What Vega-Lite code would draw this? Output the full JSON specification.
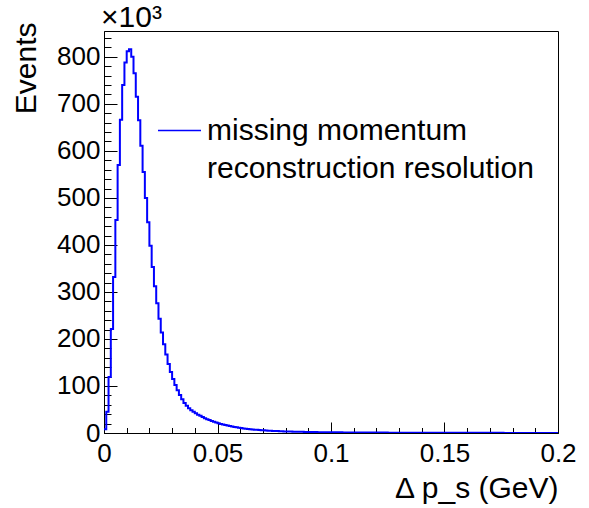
{
  "$schema": "https://vega.github.io/schema/vega-lite/v6.json",
  "width": 454,
  "height": 402,
  "autosize": {"type": "none"},
  "padding": {"left": 104, "top": 31, "right": 31, "bottom": 75},
  "background": "white",
  "title": {"text": "×10³", "anchor": "start", "frame": "group", "orient": "top", "offset": 4, "baseline": "alphabetic", "fontSize": 30, "fontWeight": "normal", "font": "Liberation Sans", "color": "black", "dx": -3, "dy": 39},
  "data": {"values": [
    {"x":0,"v":8},{"x":0.001,"v":45},{"x":0.002,"v":119},{"x":0.003,"v":221},{"x":0.004,"v":332},
    {"x":0.005,"v":453},{"x":0.006,"v":570},{"x":0.007,"v":666},{"x":0.008,"v":740},{"x":0.009,"v":788},
    {"x":0.01,"v":812},{"x":0.011,"v":816},{"x":0.012,"v":800},{"x":0.013,"v":765},{"x":0.014,"v":715},
    {"x":0.015,"v":665},{"x":0.016,"v":611},{"x":0.017,"v":555},{"x":0.018,"v":500},{"x":0.019,"v":448},
    {"x":0.02,"v":398},{"x":0.021,"v":353},{"x":0.022,"v":312},{"x":0.023,"v":276},{"x":0.024,"v":243},
    {"x":0.025,"v":214},{"x":0.026,"v":189},{"x":0.027,"v":167},{"x":0.028,"v":147},{"x":0.029,"v":130},
    {"x":0.03,"v":115},{"x":0.031,"v":102},{"x":0.032,"v":91},{"x":0.033,"v":81},{"x":0.034,"v":72},
    {"x":0.035,"v":64},{"x":0.036,"v":58},{"x":0.037,"v":52.5},{"x":0.038,"v":48.5},{"x":0.039,"v":45},
    {"x":0.04,"v":42},{"x":0.041,"v":39},{"x":0.042,"v":36.5},{"x":0.043,"v":34},{"x":0.044,"v":31.5},
    {"x":0.045,"v":29.5},{"x":0.046,"v":27.5},{"x":0.047,"v":25.5},{"x":0.048,"v":23.8},{"x":0.049,"v":22.2},
    {"x":0.05,"v":20.7},{"x":0.051,"v":19.3},{"x":0.052,"v":18},{"x":0.053,"v":16.8},{"x":0.054,"v":15.7},
    {"x":0.055,"v":14.7},{"x":0.056,"v":13.7},{"x":0.057,"v":12.8},{"x":0.058,"v":12},{"x":0.059,"v":11.2},
    {"x":0.06,"v":10.5},{"x":0.061,"v":9.8},{"x":0.062,"v":9.2},{"x":0.063,"v":8.6},{"x":0.064,"v":8.1},
    {"x":0.065,"v":7.6},{"x":0.066,"v":7.1},{"x":0.067,"v":6.7},{"x":0.068,"v":6.3},{"x":0.069,"v":5.9},
    {"x":0.07,"v":5.6},{"x":0.071,"v":5.3},{"x":0.072,"v":5},{"x":0.073,"v":4.7},{"x":0.074,"v":4.45},
    {"x":0.075,"v":4.2},{"x":0.076,"v":4},{"x":0.077,"v":3.8},{"x":0.078,"v":3.6},{"x":0.079,"v":3.4},
    {"x":0.08,"v":3.25},{"x":0.081,"v":3.1},{"x":0.082,"v":2.95},{"x":0.083,"v":2.8},{"x":0.084,"v":2.7},
    {"x":0.085,"v":2.6},{"x":0.086,"v":2.5},{"x":0.087,"v":2.4},{"x":0.088,"v":2.3},{"x":0.089,"v":2.2},
    {"x":0.09,"v":2.12},{"x":0.091,"v":2.04},{"x":0.092,"v":1.96},{"x":0.093,"v":1.9},{"x":0.094,"v":1.83},
    {"x":0.095,"v":1.77},{"x":0.096,"v":1.71},{"x":0.097,"v":1.65},{"x":0.098,"v":1.6},{"x":0.099,"v":1.55},
    {"x":0.1,"v":1.5},{"x":0.101,"v":1.46},{"x":0.102,"v":1.42},{"x":0.103,"v":1.38},{"x":0.104,"v":1.34},
    {"x":0.105,"v":1.3},{"x":0.106,"v":1.27},{"x":0.107,"v":1.24},{"x":0.108,"v":1.2},{"x":0.109,"v":1.17},
    {"x":0.11,"v":1.14},{"x":0.111,"v":1.11},{"x":0.112,"v":1.08},{"x":0.113,"v":1.05},{"x":0.114,"v":1.02},
    {"x":0.115,"v":1},{"x":0.116,"v":0.97},{"x":0.117,"v":0.95},{"x":0.118,"v":0.93},{"x":0.119,"v":0.9},
    {"x":0.12,"v":0.88},{"x":0.121,"v":0.86},{"x":0.122,"v":0.84},{"x":0.123,"v":0.82},{"x":0.124,"v":0.8},
    {"x":0.125,"v":0.78},{"x":0.126,"v":0.76},{"x":0.127,"v":0.75},{"x":0.128,"v":0.73},{"x":0.129,"v":0.71},
    {"x":0.13,"v":0.7},{"x":0.131,"v":0.68},{"x":0.132,"v":0.67},{"x":0.133,"v":0.65},{"x":0.134,"v":0.64},
    {"x":0.135,"v":0.62},{"x":0.136,"v":0.61},{"x":0.137,"v":0.6},{"x":0.138,"v":0.58},{"x":0.139,"v":0.57},
    {"x":0.14,"v":0.56},{"x":0.141,"v":0.55},{"x":0.142,"v":0.54},{"x":0.143,"v":0.52},{"x":0.144,"v":0.51},
    {"x":0.145,"v":0.5},{"x":0.146,"v":0.49},{"x":0.147,"v":0.48},{"x":0.148,"v":0.47},{"x":0.149,"v":0.46},
    {"x":0.15,"v":0.45},{"x":0.151,"v":0.44},{"x":0.152,"v":0.43},{"x":0.153,"v":0.42},{"x":0.154,"v":0.41},
    {"x":0.155,"v":0.4},{"x":0.156,"v":0.39},{"x":0.157,"v":0.38},{"x":0.158,"v":0.37},{"x":0.159,"v":0.36},
    {"x":0.16,"v":0.35},{"x":0.161,"v":0.35},{"x":0.162,"v":0.34},{"x":0.163,"v":0.35},{"x":0.164,"v":0.33},
    {"x":0.165,"v":0.32},{"x":0.166,"v":0.33},{"x":0.167,"v":0.31},{"x":0.168,"v":0.3},{"x":0.169,"v":0.31},
    {"x":0.17,"v":0.29},{"x":0.171,"v":0.29},{"x":0.172,"v":0.28},{"x":0.173,"v":0.28},{"x":0.174,"v":0.27},
    {"x":0.175,"v":0.27},{"x":0.176,"v":0.26},{"x":0.177,"v":0.26},{"x":0.178,"v":0.25},{"x":0.179,"v":0.25},
    {"x":0.18,"v":0.24},{"x":0.181,"v":0.24},{"x":0.182,"v":0.24},{"x":0.183,"v":0.23},{"x":0.184,"v":0.23},
    {"x":0.185,"v":0.23},{"x":0.186,"v":0.22},{"x":0.187,"v":0.22},{"x":0.188,"v":0.22},{"x":0.189,"v":0.21},
    {"x":0.19,"v":0.21},{"x":0.191,"v":0.21},{"x":0.192,"v":0.2},{"x":0.193,"v":0.2},{"x":0.194,"v":0.2},
    {"x":0.195,"v":0.2},{"x":0.196,"v":0.19},{"x":0.197,"v":0.19},{"x":0.198,"v":0.19},{"x":0.199,"v":0.18},
    {"x":0.2,"v":0.18}
  ]},
  "mark": {"type": "line", "interpolate": "step-after", "strokeWidth": 2, "clip": true},
  "encoding": {
    "x": {
      "field": "x", "type": "quantitative",
      "scale": {"domain": [0, 0.2], "nice": false, "zero": false},
      "axis": {
        "title": "Δ p_s (GeV)",
        "values": [0,0.01,0.02,0.03,0.04,0.05,0.06,0.07,0.08,0.09,0.1,0.11,0.12,0.13,0.14,0.15,0.16,0.17,0.18,0.19,0.2],
        "labelExpr": "abs(datum.value*20 - round(datum.value*20)) < 0.000001 ? format(datum.value, '~g') : ''",
        "tickSize": {"condition": {"test": "abs(datum.value*20 - round(datum.value*20)) < 0.000001", "value": -11}, "value": -5.5},
        "labelPadding": 18,
        "labelFlush": false,
        "labelOverlap": false,
        "titleAnchor": "end",
        "titleAlign": "right",
        "titleX": 454,
        "titleY": 64,
        "titleBaseline": "alphabetic"
      }
    },
    "y": {
      "field": "v", "type": "quantitative",
      "scale": {"domain": [0, 855], "nice": false, "zero": true},
      "axis": {
        "title": "Events",
        "values": [0,20,40,60,80,100,120,140,160,180,200,220,240,260,280,300,320,340,360,380,400,420,440,460,480,500,520,540,560,580,600,620,640,660,680,700,720,740,760,780,800,820,840],
        "labelExpr": "datum.value % 100 == 0 ? datum.value + '' : ''",
        "tickSize": {"condition": {"test": "datum.value % 100 == 0", "value": -13}, "value": -7},
        "labelPadding": 17,
        "labelFlush": false,
        "labelOverlap": false,
        "titleAnchor": "end",
        "titleAlign": "right",
        "titleAngle": 270,
        "titleX": -69,
        "titleY": -9,
        "titleBaseline": "alphabetic"
      }
    },
    "color": {
      "datum": "missing momentum reconstruction resolution",
      "type": "nominal",
      "scale": {"range": ["#0000ff"]},
      "legend": {
        "orient": "none",
        "legendX": 53,
        "legendY": 77,
        "title": null,
        "symbolType": "stroke",
        "symbolSize": 1849,
        "symbolStrokeWidth": 1.5,
        "labelFontSize": 30,
        "labelFont": "Liberation Sans",
        "labelColor": "black",
        "labelLimit": 0,
        "labelOffset": 5,
        "padding": 0,
        "labelExpr": "['missing momentum', 'reconstruction resolution']",
        "encode": {"labels": {"update": {"lineHeight": {"value": 38}}}}
      }
    }
  },
  "config": {
    "view": {"stroke": "black", "strokeWidth": 1},
    "axis": {
      "grid": false,
      "domainColor": "black",
      "domainWidth": 1,
      "tickColor": "black",
      "tickWidth": 1,
      "labelColor": "black",
      "labelFont": "Liberation Sans",
      "labelFontSize": 26,
      "titleColor": "black",
      "titleFont": "Liberation Sans",
      "titleFontSize": 30,
      "titleFontWeight": "normal"
    }
  }
}
